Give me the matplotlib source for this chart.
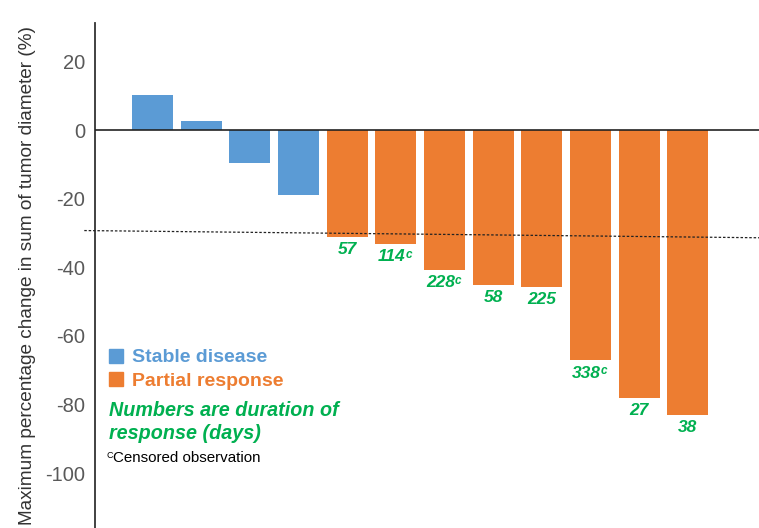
import matplotlib.pyplot as plt
from matplotlib import font_manager
from matplotlib.patches import Patch

plt.rcParams['font.family'] = ['Liberation Sans', 'DejaVu Sans']


def pick_font(bold, italic):
    # pick the regular-width Liberation Sans face (not the Narrow one)
    for f in font_manager.fontManager.ttflist:
        name = f.fname.lower()
        if 'liberationsans' not in name.replace('-', '') or 'narrow' in name:
            continue
        is_bold = 'bold' in name
        is_italic = 'italic' in name
        if is_bold == bold and is_italic == italic:
            return f.fname
    return None


bi_file = pick_font(True, True)
bold_file = pick_font(True, False)

# best response per patient, sorted as in the waterfall
stable_change = [10.2, 2.6, -9.5, -18.9]
partial_change = [-31.1, -33.2, -40.7, -45.1, -45.7, -67.1, -78.0, -83.0]
partial_days = ['57', '114', '228', '58', '225', '338', '27', '38']
partial_censored = [False, True, True, False, False, True, False, False]

y_ticks = [20, 0, -20, -40, -60, -80, -100]
y_limits = (-116, 31.2)

# the hand-drawn -30% threshold line is slightly tilted
threshold_x = [-1.40, 12.46]
threshold_y = [-29.3, -31.4]

blue = '#5B9BD5'
orange = '#ED7D31'
green = '#00B050'


def fp(fname, size, weight, style):
    if fname:
        return font_manager.FontProperties(fname=fname, size=size)
    return font_manager.FontProperties(family='Liberation Sans', size=size,
                                       weight=weight, style=style)


fig = plt.figure(figsize=(7.59, 5.28), dpi=100)
W, H = 759, 528
ax = fig.add_axes([95 / W, 0, 1 - 95 / W, (H - 23) / H])


def ax_xy(px, py):
    # pixel position in the figure -> axes fraction
    return (px - 95) / (W - 95), (H - py) / (H - 23)


x_stable = list(range(len(stable_change)))
x_partial = list(range(len(stable_change), len(stable_change) + len(partial_change)))

ax.bar(x_stable, stable_change, width=0.84, color=blue, label='Stable disease', zorder=2)
ax.bar(x_partial, partial_change, width=0.84, color=orange, label='Partial response', zorder=2)

ax.axhline(0, color='#222222', linewidth=1.2, zorder=3)
ax.plot(threshold_x, threshold_y, color='#222222', linestyle=(0, (2, 1.5)),
        linewidth=0.9, clip_on=False, zorder=4)

# duration of response under each partial-response bar
for x, val, days, cens in zip(x_partial, partial_change, partial_days, partial_censored):
    shift = -3 if cens else 0
    num = ax.annotate(days, xy=(x, val), xytext=(shift, -4), textcoords='offset points',
                      ha='center', va='top', color=green,
                      fontproperties=fp(bi_file, 12.5, 'bold', 'italic'))
    if cens:
        ax.annotate('c', xy=(1, 1), xycoords=num, xytext=(0, 0.5),
                    textcoords='offset points', ha='left', va='top', color=green,
                    fontproperties=fp(bi_file, 8.5, 'bold', 'italic'))

ax.set_xlim(-1.18, 12.46)
ax.set_ylim(*y_limits)
ax.set_xticks([])
ax.set_yticks(y_ticks)
ax.set_yticklabels([str(t) for t in y_ticks])
ax.tick_params(axis='y', length=0, pad=7, labelsize=14.5, labelcolor='#595959')

for side in ['top', 'right', 'bottom']:
    ax.spines[side].set_visible(False)
ax.spines['left'].set_color('#333333')
ax.spines['left'].set_linewidth(1.3)

ax.set_ylabel('Maximum percentage change in sum of tumor diameter (%)',
              fontsize=13.65, color='#333333', labelpad=7)

handles = [Patch(color=blue), Patch(color=orange)]
leg = ax.legend(handles, ['Stable disease', 'Partial response'],
                loc='upper left', bbox_to_anchor=ax_xy(108.5, 348.5),
                frameon=False, borderpad=0, borderaxespad=0,
                handlelength=0.75, handleheight=0.75, handletextpad=0.45,
                labelspacing=0.3, labelcolor=[blue, orange],
                prop=fp(bold_file, 14, 'bold', 'normal'))

ax.text(*ax_xy(109, 401), 'Numbers are duration of\nresponse (days)',
        transform=ax.transAxes, ha='left', va='top', color=green,
        fontproperties=fp(bi_file, 14.2, 'bold', 'italic'), linespacing=1.28)

ax.text(*ax_xy(106.5, 451), 'C', transform=ax.transAxes, ha='left', va='top',
        fontsize=6.5, color='black')
ax.text(*ax_xy(113, 451.5), 'Censored observation', transform=ax.transAxes,
        ha='left', va='top', fontsize=10.9, color='black')

fig.savefig('out.png', dpi=100)
